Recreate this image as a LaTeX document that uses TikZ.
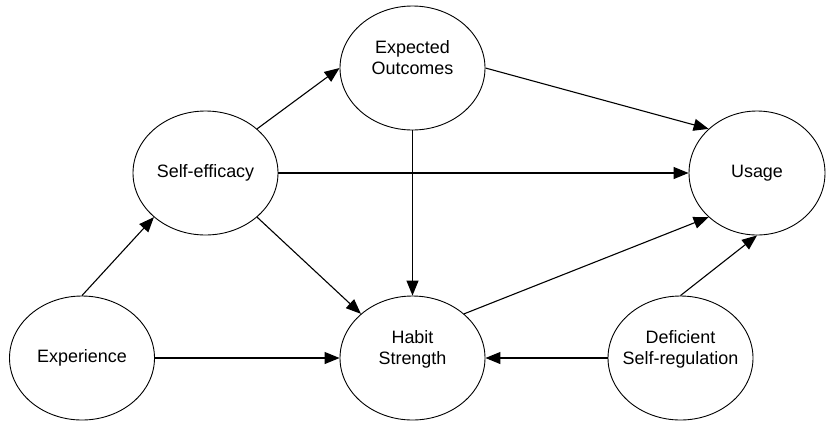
\documentclass[tikz,border=0pt]{standalone}
\usepackage{fontspec}
\setmainfont{Liberation Sans}
\usetikzlibrary{shapes.geometric,arrows.meta}

\tikzset{
  factor/.style={draw, ellipse, line width=0.9bp, minimum width=145bp, minimum height=124bp,
    inner sep=-15bp, align=center, font=\fontsize{18}{21}\selectfont},
  link/.style={line width=1.1bp, -{Triangle[length=15bp,width=12bp]}}
}

\begin{document}
\begin{tikzpicture}[x=1bp, y=-1bp]
\useasboundingbox (0,0) rectangle (826,421);

%draw the factors
\node[factor] (outcomes) at (412.5, 68) {Expected\\Outcomes\\\mbox{}};
\node[factor] (efficacy) at (205.5, 173) {Self-efficacy};
\node[factor, minimum width=136bp] (usage) at (757, 173) {Usage};
\node[factor] (experience) at (82, 358) {Experience};
\node[factor] (habit) at (412.5, 358) {Habit\\Strength\\\mbox{}};
\node[factor] (deficient) at (680.5, 358) {Deficient\\Self-regulation\\\mbox{}};

%draw the paths between them
\draw[link] (efficacy.north east) -- (outcomes.west);
\draw[link] (outcomes.east) -- (usage.north west);
\draw[link] (efficacy.east) -- (usage.west);
\draw[link] (outcomes.south) -- (habit.north);
\draw[link] (efficacy.south east) -- (habit.north west);
\draw[link] (experience.north) -- (efficacy.south west);
\draw[link] (experience.east) -- (habit.west);
\draw[link] (habit.north east) -- (usage.south west);
\draw[link] (deficient.north) -- (usage.south);
\draw[link] (deficient.west) -- (habit.east);

\end{tikzpicture}
\end{document}
